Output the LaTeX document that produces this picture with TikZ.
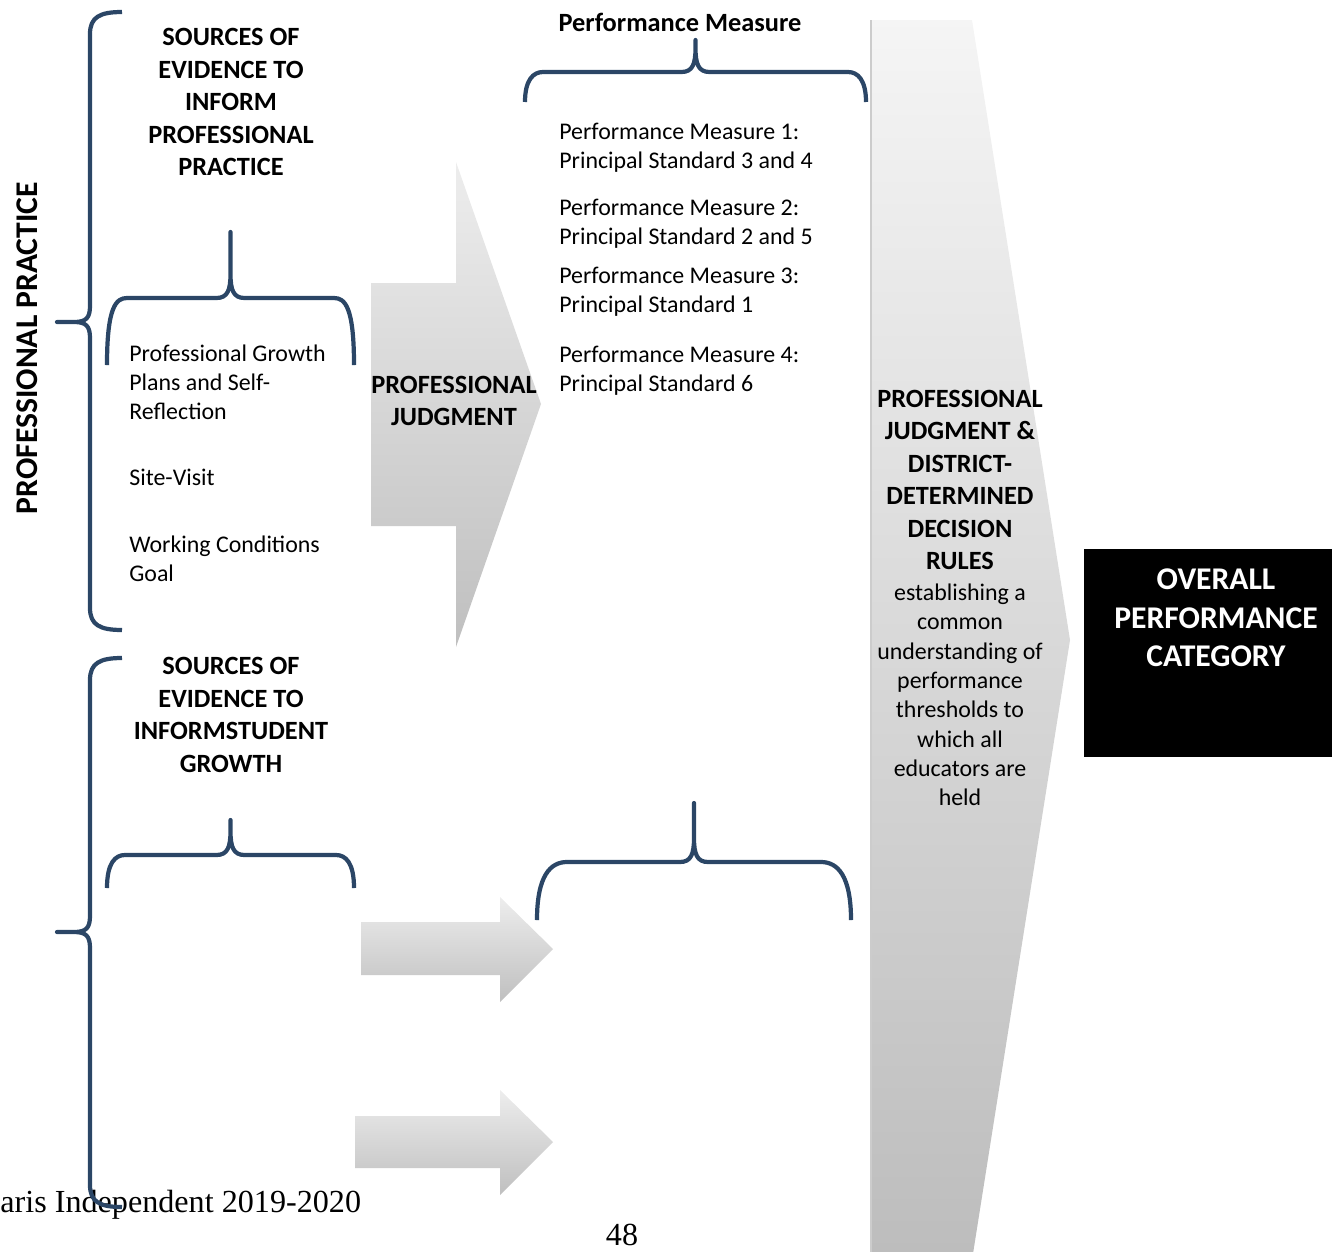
\documentclass[tikz,border=0pt]{standalone}
\usepackage{fontspec}
\setmainfont{Carlito}
\newfontfamily\footfont{Liberation Serif}
\usetikzlibrary{positioning}
\definecolor{bracenavy}{HTML}{2B4666}

\begin{document}
\begin{tikzpicture}[x=0.02cm,y=-0.02cm,
    bracepath/.style={draw=bracenavy,line width=2.4pt,line join=round},
    headtext/.style={font=\bfseries\fontsize{15}{18.5}\selectfont,align=center,inner sep=0pt},
    bodytext/.style={font=\fontsize{13.6}{16.6}\selectfont,align=left,anchor=west,inner sep=0pt},
    grayarrow/.style={top color=gray!14,bottom color=gray!50,draw=none}]
    \useasboundingbox (0,0) rectangle (1332,1251);

    % brace with the tip upwards: left x, right x, end y, bar y, tip y, corner
    \def\upbrace#1#2#3#4#5#6{%
        \pgfmathsetmacro{\bmid}{(#1+#2)/2}
        \draw[bracepath] (#1,#3) .. controls (#1,{#4+0.45*#6}) and ({#1+0.45*#6},#4) .. ({#1+#6},#4)
        -- ({\bmid-14},#4) .. controls ({\bmid-3},#4) and (\bmid,{#4-8}) .. (\bmid,{#4-24}) -- (\bmid,#5)
        -- (\bmid,{#4-24}) .. controls (\bmid,{#4-8}) and ({\bmid+3},#4) .. ({\bmid+14},#4)
        -- ({#2-#6},#4) .. controls ({#2-0.45*#6},#4) and (#2,{#4+0.45*#6}) .. (#2,#3);}
    % brace with the tip to the left: spine x, top y, bottom y, tip y
    \def\leftbrace#1#2#3#4{%
        \draw[bracepath] ({#1+32},#2) .. controls ({#1+10},#2) and (#1,{#2+5}) .. (#1,{#2+22})
        -- (#1,{#4-16}) .. controls (#1,{#4-4}) and ({#1-4},#4) .. ({#1-16},#4) -- ({#1-33},#4)
        -- ({#1-16},#4) .. controls ({#1-4},#4) and (#1,{#4+4}) .. (#1,{#4+16})
        -- (#1,{#3-22}) .. controls (#1,{#3-5}) and ({#1+10},#3) .. ({#1+32},#3);}

    % page footer (the brace runs over it)
    \node[font=\footfont\fontsize{18.3}{21}\selectfont,anchor=west,inner sep=0pt] (footer) at (0,1205) {aris Independent 2019-2020};
    \node[font=\footfont\fontsize{18.3}{21}\selectfont,inner sep=0pt] (pagenum) at (622,1235) {48};

    % big arrow on the right
    \path[top color=gray!8,bottom color=gray!52,draw=none]
    (871,20) -- (972,20) -- (1070,640) -- (972,1260) -- (871,1260) -- cycle;
    \draw[gray!40,line width=0.8pt] (871,20) -- (871,1260);
    \node[headtext] (pjdd) at (960,480) {PROFESSIONAL\\JUDGMENT \&\\DISTRICT-\\DETERMINED\\DECISION\\RULES};
    \node[font=\fontsize{13.6}{16.7}\selectfont,align=center,inner sep=0pt] (pjddtxt) at (960,695)
    {establishing a\\common\\understanding of\\performance\\thresholds to\\which all\\educators are\\held};

    % overall box
    \path[fill=black] (1084,549) rectangle (1345,757);
    \node[font=\bfseries\fontsize{18}{22}\selectfont,text=white,align=center,inner sep=0pt] (overall) at (1216,618)
    {OVERALL\\PERFORMANCE\\CATEGORY};

    % professional practice
    \leftbrace{90}{12}{630}{322}
    \node[font=\bfseries\fontsize{18}{21}\selectfont,rotate=90,inner sep=0pt] (pract) at (27,348) {PROFESSIONAL PRACTICE};
    \node[headtext] (srcpp) at (231,102) {SOURCES OF\\EVIDENCE TO\\INFORM\\PROFESSIONAL\\PRACTICE};
    \upbrace{107}{354}{365}{298}{232}{20}
    \node[bodytext] (pgrowth) at (129,382) {Professional Growth\\Plans and Self-\\Reflection};
    \node[bodytext] (sitevisit) at (129,477) {Site-Visit};
    \node[bodytext] (workcond) at (129,559) {Working Conditions\\Goal};

    \path[grayarrow] (371,283) -- (456,283) -- (456,162) -- (541,404) -- (456,647) -- (456,526) -- (371,526) -- cycle;
    \node[headtext] (profjudg) at (454,401) {PROFESSIONAL\\JUDGMENT};

    % performance measures
    \node[headtext] (pmhead) at (680,22) {Performance Measure};
    \upbrace{525}{866}{102}{72}{40}{18}
    \node[bodytext] (pmone) at (559,148) {Performance Measure 1:\\Principal Standard 3 and 4};
    \node[bodytext] (pmtwo) at (559,224) {Performance Measure 2:\\Principal Standard 2 and 5};
    \node[bodytext] (pmthree) at (559,292) {Performance Measure 3:\\Principal Standard 1};
    \node[bodytext] (pmfour) at (559,371) {Performance Measure 4:\\Principal Standard 6};

    % student growth
    \leftbrace{90}{658}{1207}{932}
    \node[headtext] (srcsg) at (231,715) {SOURCES OF\\EVIDENCE TO\\INFORMSTUDENT\\GROWTH};
    \upbrace{107}{354}{888}{855}{820}{18}
    \path[grayarrow] (361,922) -- (500,922) -- (500,897) -- (553,949) -- (500,1002) -- (500,975) -- (361,975) -- cycle;
    \path[grayarrow] (355,1116) -- (500,1116) -- (500,1090) -- (553,1142) -- (500,1195) -- (500,1168) -- (355,1168) -- cycle;
    \upbrace{537}{851}{920}{862}{803}{30}
\end{tikzpicture}
\end{document}
